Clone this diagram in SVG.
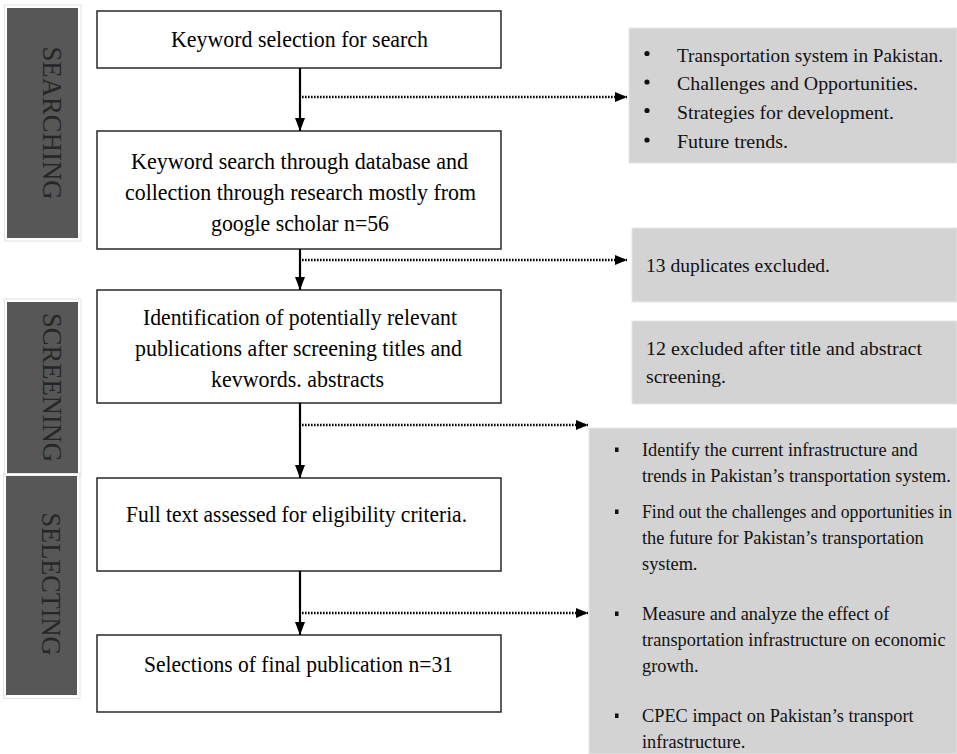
<svg xmlns="http://www.w3.org/2000/svg" width="957" height="754" viewBox="0 0 957 754">
<defs>
<style>
.box{fill:#fff;stroke:#1a1a1a;stroke-width:1.4}
.bar{fill:#575757}
.barb{fill:none;stroke:#e2e2e2;stroke-width:1}
.bt{font-family:"Liberation Serif","Times New Roman",serif;font-size:26.5px;fill:#262626;text-anchor:middle}
.t{font-family:"Liberation Serif","Times New Roman",serif;font-size:24px;fill:#000}
.g{fill:#d3d3d3;stroke:#e6e6e6;stroke-width:1}
.gt{font-family:"Liberation Serif","Times New Roman",serif;font-size:19.5px;fill:#111}
.gt4{font-family:"Liberation Serif","Times New Roman",serif;font-size:19.5px;fill:#111}
.sol{stroke:#000;stroke-width:2.2;fill:none}
.dot{stroke:#000;stroke-width:2.4;stroke-dasharray:1.6 1.4;fill:none}
</style>
<marker id="ah" markerUnits="userSpaceOnUse" markerWidth="13" markerHeight="11" refX="13" refY="5.5" orient="auto"><path d="M0,0.5 L13,5.5 L0,10.5 z" fill="#000"/></marker>
<marker id="dh" markerUnits="userSpaceOnUse" markerWidth="12" markerHeight="11" refX="12" refY="5.5" orient="auto"><path d="M0,0.5 L12,5.5 L0,10.5 z" fill="#000"/></marker>
</defs>
<rect width="957" height="754" fill="#fff"/>

<g id="bar-searching">
<rect class="barb" x="4.5" y="5" width="76.5" height="236"/>
<rect class="bar" x="7" y="8" width="71" height="230"/>
<text class="bt" transform="translate(42.5 123) rotate(90)" textLength="153" lengthAdjust="spacingAndGlyphs">SEARCHING</text>
</g>
<g id="bar-screening">
<rect class="barb" x="4.5" y="299" width="76.5" height="177"/>
<rect class="bar" x="7" y="302" width="71" height="171"/>
<text class="bt" transform="translate(42.5 387.5) rotate(90)" textLength="149" lengthAdjust="spacingAndGlyphs">SCREENING</text>
</g>
<g id="bar-selecting">
<rect class="barb" x="3.5" y="473.5" width="76.5" height="225"/>
<rect class="bar" x="6" y="476" width="71" height="219"/>
<text class="bt" transform="translate(41.5 584) rotate(90)" textLength="143" lengthAdjust="spacingAndGlyphs">SELECTING</text>
</g>

<g id="box1">
<rect class="box" x="97" y="11" width="404" height="57"/>
<text class="t" x="171" y="47" textLength="257" lengthAdjust="spacingAndGlyphs">Keyword selection for search</text>
</g>
<g id="box2">
<rect class="box" x="97" y="131" width="404" height="118"/>
<text class="t" x="131" y="169" textLength="337" lengthAdjust="spacingAndGlyphs">Keyword search through database and</text>
<text class="t" x="125" y="200" textLength="351" lengthAdjust="spacingAndGlyphs">collection  through research mostly from</text>
<text class="t" x="211" y="231" textLength="178" lengthAdjust="spacingAndGlyphs">google  scholar n=56</text>
</g>
<g id="box3">
<rect class="box" x="97" y="290" width="404" height="113"/>
<text class="t" x="143" y="325" textLength="314" lengthAdjust="spacingAndGlyphs">Identification  of potentially  relevant</text>
<text class="t" x="135" y="356" textLength="327" lengthAdjust="spacingAndGlyphs">publications  after screening titles and</text>
<text class="t" x="211" y="387" textLength="173" lengthAdjust="spacingAndGlyphs">kevwords. abstracts</text>
</g>
<g id="box4">
<rect class="box" x="97" y="478" width="404" height="93"/>
<text class="t" x="126" y="522" textLength="341" lengthAdjust="spacingAndGlyphs">Full text assessed for eligibility  criteria.</text>
</g>
<g id="box5">
<rect class="box" x="97" y="635" width="404" height="77"/>
<text class="t" x="144" y="672" textLength="309" lengthAdjust="spacingAndGlyphs">Selections of final publication  n=31</text>
</g>

<g id="note1">
<rect class="g" x="629" y="28" width="328" height="135"/>
<circle cx="647" cy="53.5" r="2.6" fill="#111"/>
<circle cx="647" cy="82" r="2.6" fill="#111"/>
<circle cx="647" cy="110.5" r="2.6" fill="#111"/>
<circle cx="647" cy="140" r="2.6" fill="#111"/>
<text class="gt" x="677" y="61.5" textLength="266" lengthAdjust="spacingAndGlyphs">Transportation system in Pakistan.</text>
<text class="gt" x="677" y="90" textLength="241" lengthAdjust="spacingAndGlyphs">Challenges and Opportunities.</text>
<text class="gt" x="677" y="118.5" textLength="217" lengthAdjust="spacingAndGlyphs">Strategies for development.</text>
<text class="gt" x="677" y="148" textLength="111" lengthAdjust="spacingAndGlyphs">Future trends.</text>
</g>
<g id="note2">
<rect class="g" x="632" y="228" width="325" height="74"/>
<text class="gt" x="646" y="272" textLength="184" lengthAdjust="spacingAndGlyphs">13 duplicates excluded.</text>
</g>
<g id="note3">
<rect class="g" x="632" y="321" width="325" height="83"/>
<text class="gt" x="646" y="355" textLength="276" lengthAdjust="spacingAndGlyphs">12 excluded after title and abstract</text>
<text class="gt" x="646" y="383" textLength="80" lengthAdjust="spacingAndGlyphs">screening.</text>
</g>
<g id="note4">
<rect class="g" x="589" y="428" width="368" height="326"/>
<rect x="615" y="447.5" width="3.5" height="4.5" fill="#111"/>
<rect x="615" y="509.5" width="3.5" height="4.5" fill="#111"/>
<rect x="615" y="611.5" width="3.5" height="4.5" fill="#111"/>
<rect x="615" y="713.5" width="3.5" height="4.5" fill="#111"/>
<g transform="translate(642 0) scale(0.94 1)">
<text class="gt4" x="0" y="456">Identify the current infrastructure and</text>
<text class="gt4" x="0" y="482">trends in Pakistan’s transportation system.</text>
<text class="gt4" x="0" y="518" style="font-size:18.3px" textLength="330" lengthAdjust="spacingAndGlyphs">Find out the challenges  and opportunities in</text>
<text class="gt4" x="0" y="544">the future for Pakistan’s transportation</text>
<text class="gt4" x="0" y="570">system.</text>
<text class="gt4" x="0" y="620">Measure and analyze the effect of</text>
<text class="gt4" x="0" y="646">transportation infrastructure on economic</text>
<text class="gt4" x="0" y="672">growth.</text>
<text class="gt4" x="0" y="722">CPEC impact on Pakistan’s transport</text>
<text class="gt4" x="0" y="748">infrastructure.</text>
</g>
</g>

<g id="connectors">
<line class="sol" x1="300" y1="68" x2="300" y2="131" marker-end="url(#ah)"/>
<line class="sol" x1="300" y1="249" x2="300" y2="290" marker-end="url(#ah)"/>
<line class="sol" x1="300" y1="403" x2="300" y2="478" marker-end="url(#ah)"/>
<line class="sol" x1="300" y1="571" x2="300" y2="635" marker-end="url(#ah)"/>
<line class="dot" x1="302" y1="97" x2="627" y2="97" marker-end="url(#dh)"/>
<line class="dot" x1="302" y1="260" x2="627" y2="260" marker-end="url(#dh)"/>
<line class="dot" x1="302" y1="425" x2="588" y2="425" marker-end="url(#dh)"/>
<line class="dot" x1="302" y1="613" x2="588" y2="613" marker-end="url(#dh)"/>
</g>
</svg>
